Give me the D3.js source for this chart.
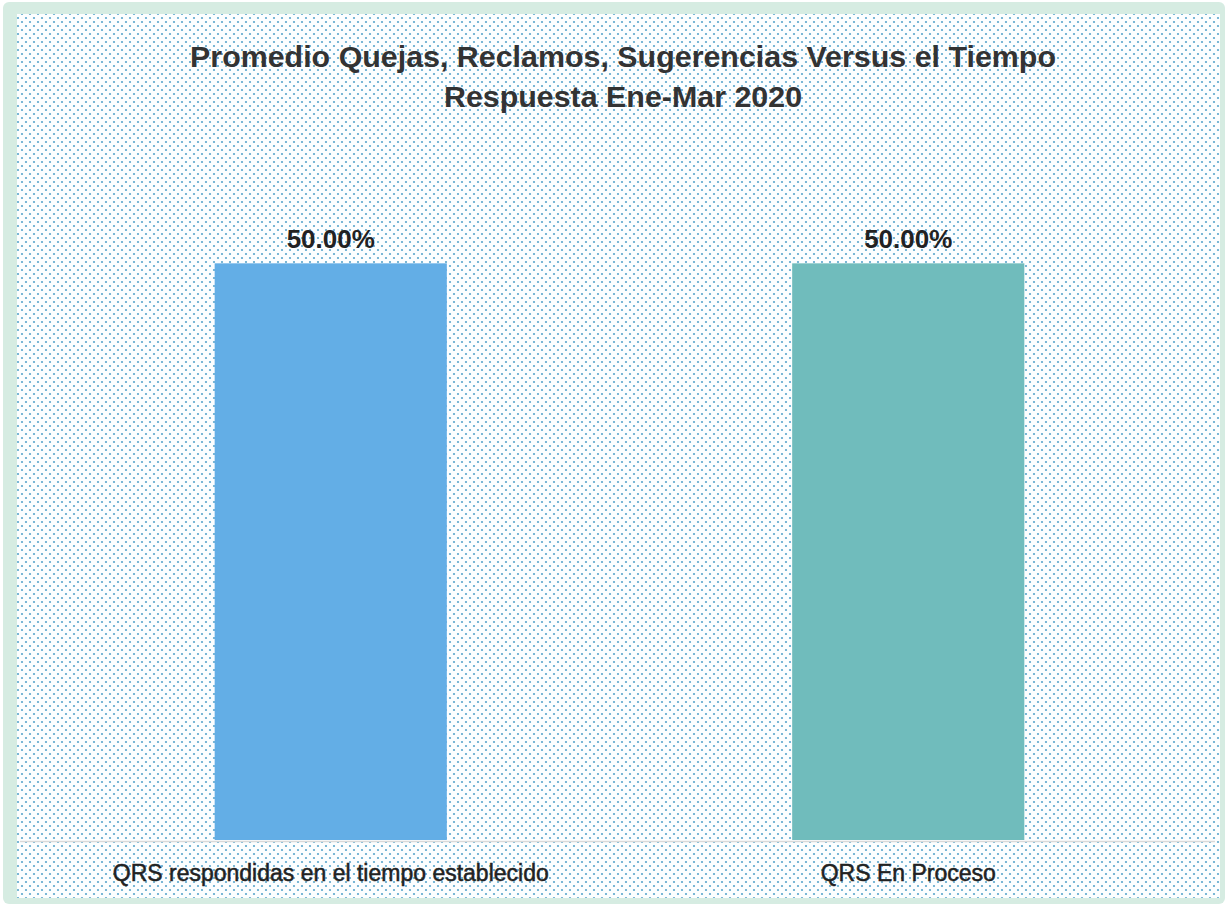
<!DOCTYPE html>
<html>
<head>
<meta charset="utf-8">
<script src="https://cdn.jsdelivr.net/npm/d3@7"></script>
<style>
  body { margin: 0; background: #fff; }
  text { font-family: "Liberation Sans", Arial, sans-serif; }
</style>
</head>
<body>
<div class="container"></div>
<script>
var categories = ["QRS respondidas en el tiempo establecido", "QRS En Proceso"];
var values = [0.5, 0.5];
var valueLabels = ["50.00%", "50.00%"];
var titleLines = ["Promedio Quejas, Reclamos, Sugerencias Versus el Tiempo", "Respuesta Ene-Mar 2020"];
var barColors = ["#63aee6", "#70bcbc"];

var svgWidth = 1228;
var svgHeight = 906;

var svg = d3.select(".container")
  .append("svg")
  .attr("width", svgWidth)
  .attr("height", svgHeight);

// dotted background pattern
var defs = svg.append("defs");
var pat = defs.append("pattern")
  .attr("id", "dots")
  .attr("width", 8)
  .attr("height", 8)
  .attr("patternUnits", "userSpaceOnUse");
pat.append("rect").attr("width", 8).attr("height", 8).attr("fill", "#fcfeff");
pat.append("circle").attr("cx", 2).attr("cy", 2).attr("r", 1.1).attr("fill", "#5ba6cc");
pat.append("circle").attr("cx", 6).attr("cy", 6).attr("r", 1.1).attr("fill", "#5ba6cc");

// outer frame
svg.append("rect")
  .attr("x", 3).attr("y", 2)
  .attr("width", 1222).attr("height", 902)
  .attr("rx", 6)
  .attr("fill", "#d6ece2");

svg.append("rect")
  .attr("x", 17).attr("y", 14)
  .attr("width", 1203).attr("height", 884)
  .attr("fill", "url(#dots)");

// scales
var x = d3.scaleBand()
  .domain(categories)
  .range([42, 1197])
  .paddingInner(0.598)
  .paddingOuter(0.299);

var y = d3.scaleLinear()
  .domain([0, 0.6])
  .range([840, 148]);

// baseline
svg.append("line")
  .attr("x1", 20).attr("x2", 1215)
  .attr("y1", y(0) + 1.5).attr("y2", y(0) + 1.5)
  .attr("stroke", "#d9d9d9")
  .attr("stroke-width", 1.5);

// bars
svg.selectAll(".bar")
  .data(values)
  .enter()
  .append("rect")
  .attr("class", "bar")
  .attr("x", (d, i) => x(categories[i]))
  .attr("y", d => y(d))
  .attr("width", x.bandwidth())
  .attr("height", d => y(0) - y(d))
  .attr("fill", (d, i) => barColors[i]);

// value labels
svg.selectAll(".val")
  .data(values)
  .enter()
  .append("text")
  .attr("class", "val")
  .attr("x", (d, i) => x(categories[i]) + x.bandwidth() / 2)
  .attr("y", d => y(d) - 15)
  .attr("text-anchor", "middle")
  .attr("font-size", 26)
  .attr("font-weight", "bold")
  .attr("fill", "#222")
  .text((d, i) => valueLabels[i]);

// category labels
var xAxis = d3.axisBottom(x).tickSize(0).tickPadding(0);
var axisG = svg.append("g")
  .attr("transform", `translate(0, ${y(0) + 41})`)
  .call(xAxis);
axisG.select(".domain").remove();
axisG.selectAll("text")
  .attr("font-size", 23)
  .attr("fill", "#222")
  .attr("stroke", "#222")
  .attr("stroke-width", 0.5)
  .attr("dy", 0)
  .style("font-family", "'Liberation Sans', Arial, sans-serif");

// title
svg.append("g").selectAll("text")
  .data(titleLines)
  .enter()
  .append("text")
  .attr("x", 623)
  .attr("y", (d, i) => 67 + i * 40)
  .attr("text-anchor", "middle")
  .attr("font-size", 30.4)
  .attr("font-weight", "bold")
  .attr("fill", "#333")
  .text(d => d);
</script>
</body>
</html>
